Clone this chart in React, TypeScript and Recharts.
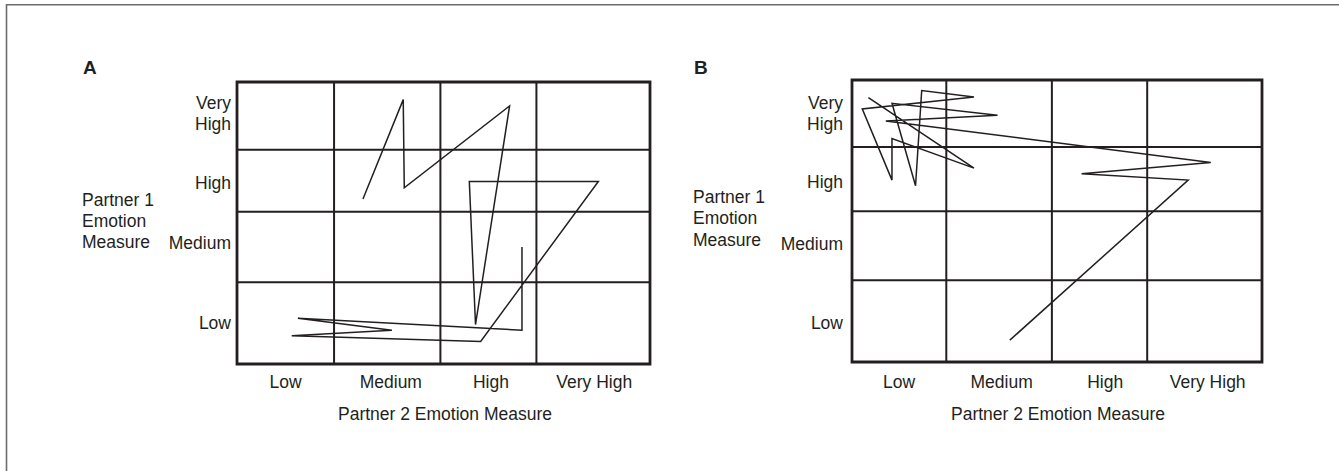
import React from 'react';
import { LineChart, Line, XAxis, YAxis, ReferenceLine, ReferenceArea } from 'recharts';

// Category labels (both axes use the same emotion levels)
const xCategories = ['Low', 'Medium', 'High', 'Very High'];
const yCategories = ['Low', 'Medium', 'High', 'Very High'];

// ---- Panel A ----
// Grid boundaries on a 0–4 emotion scale (hand-drawn, slightly uneven)
const gridXA = [0.94, 1.97, 2.9];
const gridYA = [1.16, 2.16, 3.04];
const xTicksA = [0.47, 1.49, 2.46, 3.46];
const yTicksA = [0.58, 1.71, 2.57, 3.55];
const pathA = [
  { x: 1.22, y: 2.34 },
  { x: 1.61, y: 3.75 },
  { x: 1.62, y: 2.5 },
  { x: 2.64, y: 3.66 },
  { x: 2.31, y: 0.56 },
  { x: 2.25, y: 2.59 },
  { x: 3.5, y: 2.59 },
  { x: 2.36, y: 0.32 },
  { x: 0.53, y: 0.4 },
  { x: 1.5, y: 0.48 },
  { x: 0.59, y: 0.65 },
  { x: 2.76, y: 0.48 },
  { x: 2.76, y: 1.66 },
];

// ---- Panel B ----
const gridXB = [0.92, 1.95, 2.88];
const gridYB = [1.16, 2.14, 3.05];
const xTicksB = [0.46, 1.46, 2.47, 3.47];
const yTicksB = [0.55, 1.68, 2.55, 3.52];
const pathB = [
  { x: 1.54, y: 0.31 },
  { x: 3.28, y: 2.58 },
  { x: 2.24, y: 2.67 },
  { x: 3.5, y: 2.83 },
  { x: 0.33, y: 3.42 },
  { x: 1.42, y: 3.5 },
  { x: 0.39, y: 3.67 },
  { x: 0.62, y: 2.5 },
  { x: 0.68, y: 3.85 },
  { x: 1.19, y: 3.76 },
  { x: 0.1, y: 3.59 },
  { x: 0.39, y: 2.58 },
  { x: 0.39, y: 3.17 },
  { x: 1.19, y: 2.75 },
  { x: 0.16, y: 3.75 },
];

const INK = '#231f20';
const FONT = "'Liberation Sans', Arial, Helvetica, sans-serif";
const FS = 17.5;

const findIdx = (arr: number[], v: number) => {
  let best = 0;
  for (let i = 0; i < arr.length; i++) {
    if (Math.abs(arr[i] - v) < Math.abs(arr[best] - v)) best = i;
  }
  return best;
};

const makeXTick = (ticks: number[]) => (props: any) => {
  const { x, y, payload } = props;
  const label = xCategories[findIdx(ticks, payload.value)];
  return (
    <text x={x} y={y + 12.5} textAnchor="middle" fontSize={FS} fontFamily={FONT} fill={INK}>
      {label}
    </text>
  );
};

const makeYTick = (ticks: number[]) => (props: any) => {
  const { x, y, payload } = props;
  const label = yCategories[findIdx(ticks, payload.value)];
  const lines = label === 'Very High' ? ['Very', 'High'] : [label];
  if (lines.length === 1) {
    return (
      <text x={x} y={y + 6} textAnchor="end" fontSize={FS} fontFamily={FONT} fill={INK}>
        {label}
      </text>
    );
  }
  return (
    <text x={x} y={y - 4.5} textAnchor="end" fontSize={FS} fontFamily={FONT} fill={INK}>
      <tspan x={x} dy={0}>{lines[0]}</tspan>
      <tspan x={x} dy={21}>{lines[1]}</tspan>
    </text>
  );
};

type PanelProps = {
  data: { x: number; y: number }[];
  gridX: number[];
  gridY: number[];
  xTicks: number[];
  yTicks: number[];
  width: number;
  margin: { top: number; right: number; bottom: number; left: number };
  xTickMargin: number;
  yTickMargin: number;
};

const Panel = ({ data, gridX, gridY, xTicks, yTicks, width, margin, xTickMargin, yTickMargin }: PanelProps) => (
  <LineChart width={width} height={471} data={data} margin={margin}>
    <XAxis
      type="number"
      dataKey="x"
      domain={[0, 4]}
      ticks={xTicks}
      interval={0}
      axisLine={false}
      tickLine={false}
      tickSize={0}
      tickMargin={xTickMargin}
      height={30}
      tick={makeXTick(xTicks)}
    />
    <YAxis
      type="number"
      dataKey="y"
      domain={[0, 4]}
      ticks={yTicks}
      interval={0}
      axisLine={false}
      tickLine={false}
      tickSize={0}
      tickMargin={yTickMargin}
      width={60}
      tick={makeYTick(yTicks)}
    />
    {gridX.map((v) => (
      <ReferenceLine key={'gx' + v} x={v} stroke={INK} strokeWidth={2} />
    ))}
    {gridY.map((v) => (
      <ReferenceLine key={'gy' + v} y={v} stroke={INK} strokeWidth={2} />
    ))}
    <ReferenceArea x1={0} x2={4} y1={0} y2={4} fill="none" fillOpacity={0} stroke={INK} strokeWidth={2.8} />
    <Line
      type="linear"
      dataKey="y"
      stroke={INK}
      strokeWidth={1.5}
      dot={false}
      activeDot={false}
      isAnimationActive={false}
    />
  </LineChart>
);

export default function App() {
  const textProps = { fontSize: FS, fontFamily: FONT, fill: INK };
  return (
    <div style={{ position: 'absolute', left: 0, top: 0, width: 1339, height: 471, background: '#fff' }}>
      <div style={{ position: 'absolute', left: 0, top: 0 }}>
        <Panel
          data={pathA}
          gridX={gridXA}
          gridY={gridYA}
          xTicks={xTicksA}
          yTicks={yTicksA}
          width={680}
          margin={{ top: 82, right: 30, bottom: 77, left: 177 }}
          xTickMargin={11}
          yTickMargin={6}
        />
      </div>
      <div style={{ position: 'absolute', left: 680, top: 0 }}>
        <Panel
          data={pathB}
          gridX={gridXB}
          gridY={gridYB}
          xTicks={xTicksB}
          yTicks={yTicksB}
          width={659}
          margin={{ top: 80, right: 77, bottom: 79, left: 112 }}
          xTickMargin={13}
          yTickMargin={9}
        />
      </div>
      <svg
        width={1339}
        height={471}
        style={{ position: 'absolute', left: 0, top: 0, pointerEvents: 'none' }}
      >
        <path d="M6.5,471 L6.5,4.7 L1339,4.7" fill="none" stroke="#6b6b6b" strokeWidth={1.6} />
        <text x={83} y={74} fontSize={19} fontWeight="bold" fontFamily={FONT} fill={INK}>A</text>
        <text x={694} y={74} fontSize={19} fontWeight="bold" fontFamily={FONT} fill={INK}>B</text>
        <text x={82} y={205.5} {...textProps}>
          <tspan x={82} dy={0}>Partner 1</tspan>
          <tspan x={82} dy={21}>Emotion</tspan>
          <tspan x={82} dy={21}>Measure</tspan>
        </text>
        <text x={693} y={203} {...textProps}>
          <tspan x={693} dy={0}>Partner 1</tspan>
          <tspan x={693} dy={21}>Emotion</tspan>
          <tspan x={693} dy={21.5}>Measure</tspan>
        </text>
        <text x={445} y={420} textAnchor="middle" {...textProps}>Partner 2 Emotion Measure</text>
        <text x={1058} y={420} textAnchor="middle" {...textProps}>Partner 2 Emotion Measure</text>
      </svg>
    </div>
  );
}
